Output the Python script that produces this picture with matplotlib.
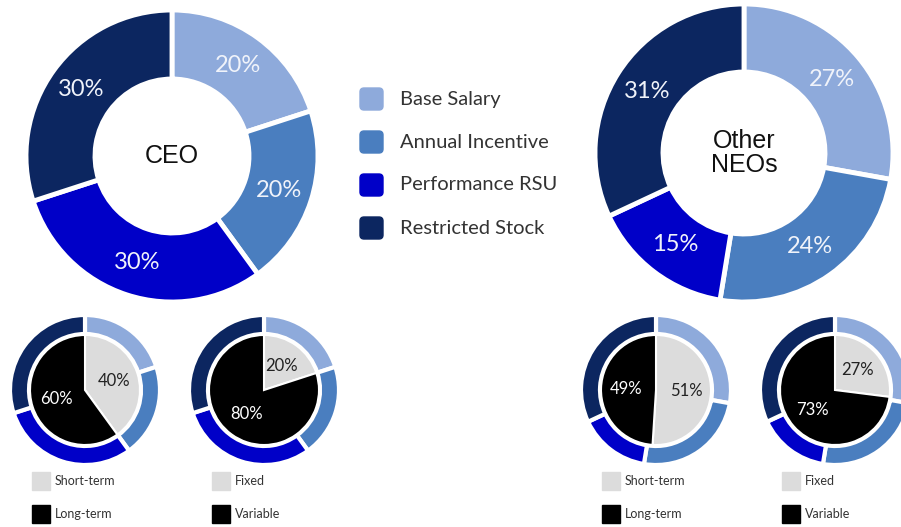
import matplotlib.pyplot as plt
from matplotlib.patches import FancyBboxPatch, Rectangle

# data
categories = ['Base Salary', 'Annual Incentive', 'Performance RSU', 'Restricted Stock']
ceo_mix = [20, 20, 30, 30]
neo_mix = [27, 24, 15, 31]
term_labels = ['Short-term', 'Long-term']
pay_labels = ['Fixed', 'Variable']
ceo_term = [40, 60]
ceo_pay = [20, 80]
neo_term = [51, 49]
neo_pay = [27, 73]

colors = ['#8eaadb', '#4a7ebf', '#0000c8', '#0c2660']
split_colors = ['#dcdcdc', '#000000']
H = 527

fig = plt.figure(figsize=(9.01, 5.27), dpi=100)
ax = fig.add_axes([0, 0, 1, 1])


def big_donut(values, cx, cy, r, w, title):
    ax.pie(values, radius=r, center=(cx, H - cy), startangle=90, counterclock=False,
           colors=colors, labels=[f'{v}%' for v in values], labeldistance=0.77,
           wedgeprops=dict(width=w, edgecolor='white', linewidth=3.5),
           textprops=dict(ha='center', va='center', color='#f0f3fa',
                          fontsize=17, family='Lato'))
    ax.text(cx, H - cy, title, ha='center', va='center', fontsize=18,
            family='Liberation Sans', color='#111111', linespacing=1.05)


def small_chart(mix, split, cx, cy, labels, lx):
    ax.pie(mix, radius=75, center=(cx, H - cy), startangle=90, counterclock=False,
           colors=colors, wedgeprops=dict(width=19, edgecolor='white', linewidth=3))
    _, texts = ax.pie(split, radius=55, center=(cx, H - cy), startangle=90,
                      counterclock=False, colors=split_colors,
                      labels=[f'{v}%' for v in split], labeldistance=0.55,
                      wedgeprops=dict(edgecolor='white', linewidth=1.5),
                      textprops=dict(ha='center', va='center', fontsize=12,
                                     family='Lato'))
    texts[0].set_color('#222222')
    texts[1].set_color('white')
    for i, lab in enumerate(labels):
        y = 481 + i * 33
        ax.add_patch(Rectangle((lx, H - y - 9), 18, 18, color=split_colors[i]))
        ax.text(lx + 23, H - y, lab, ha='left', va='center', fontsize=9,
                family='Lato', color='#333333')


big_donut(ceo_mix, 172, 156, 146, 69, 'CEO')
big_donut(neo_mix, 744, 153, 149, 68, 'Other\nNEOs')

small_chart(ceo_mix, ceo_term, 85, 390, term_labels, 32)
small_chart(ceo_mix, ceo_pay, 264, 390, pay_labels, 212)
small_chart(neo_mix, neo_term, 656, 390, term_labels, 602)
small_chart(neo_mix, neo_pay, 835, 390, pay_labels, 782)

# main legend
for i, (cat, c) in enumerate(zip(categories, colors)):
    y = 99 + i * 43
    ax.add_patch(FancyBboxPatch((360, H - y - 11), 23, 22,
                                boxstyle='round,pad=0,rounding_size=4', color=c))
    ax.text(400, H - y, cat, ha='left', va='center', fontsize=14.5,
            family='Lato', color='#333333')

ax.set_xlim(0, 901)
ax.set_ylim(0, H)
ax.set_aspect('auto')
ax.axis('off')

fig.savefig('out.png', dpi=100)
